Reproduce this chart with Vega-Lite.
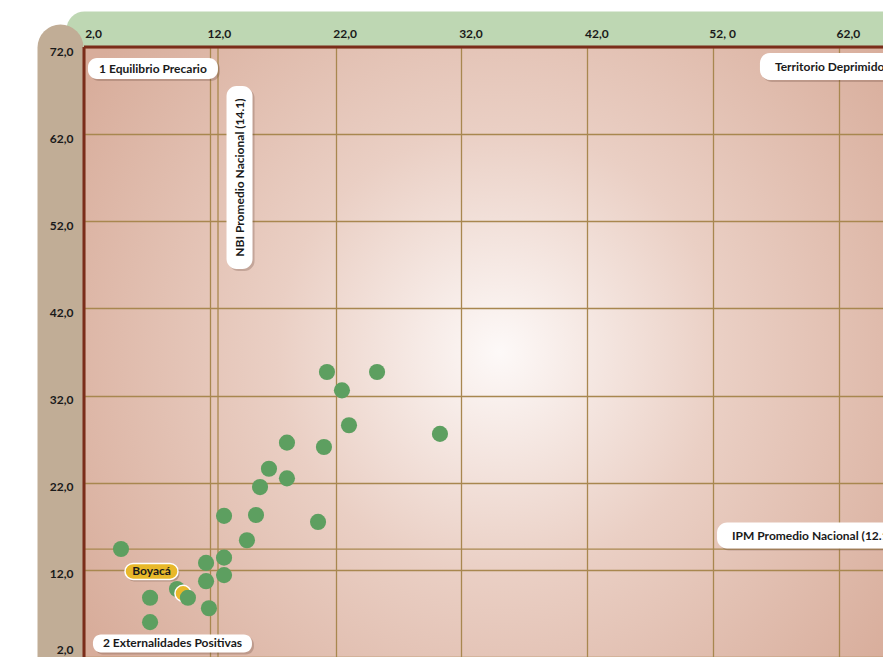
{
  "$schema": "https://vega.github.io/schema/vega-lite/v6.json",
  "width": 799,
  "height": 610,
  "autosize": {"type": "none"},
  "padding": {"left": 84, "top": 47, "right": 0, "bottom": 0},
  "background": "white",
  "resolve": {"axis": {"x": "independent", "y": "independent"}},
  "config": {
    "font": "Lato",
    "view": {
      "stroke": null,
      "fill": {
        "gradient": "radial",
        "x1": 0.52, "y1": 0.5, "r1": 0,
        "x2": 0.52, "y2": 0.5, "r2": 0.62,
        "stops": [
          {"offset": 0, "color": "#fdf9f8"},
          {"offset": 0.45, "color": "#eacfc4"},
          {"offset": 1, "color": "#d8ad9b"}
        ]
      }
    },
    "axis": {"title": null, "domain": false, "labels": false, "grid": false, "ticks": false, "tickSize": 0},
    "axisX": {"orient": "top"},
    "axisY": {"orient": "left"}
  },
  "datasets": {
    "puntos": [
      {"nombre": "M1", "tipo": "Municipio", "ipm": 4.94, "nbi": 14.4},
      {"nombre": "M2", "tipo": "Municipio", "ipm": 7.25, "nbi": 8.8},
      {"nombre": "M3", "tipo": "Municipio", "ipm": 7.25, "nbi": 6.0},
      {"nombre": "M4", "tipo": "Municipio", "ipm": 9.39, "nbi": 9.8},
      {"nombre": "Boyacá", "tipo": "Boyacá", "ipm": 9.87, "nbi": 9.3},
      {"nombre": "M5", "tipo": "Municipio", "ipm": 10.26, "nbi": 8.8},
      {"nombre": "M6", "tipo": "Municipio", "ipm": 11.7, "nbi": 12.8},
      {"nombre": "M7", "tipo": "Municipio", "ipm": 11.7, "nbi": 10.7},
      {"nombre": "M8", "tipo": "Municipio", "ipm": 11.93, "nbi": 7.6},
      {"nombre": "M9", "tipo": "Municipio", "ipm": 13.13, "nbi": 18.2},
      {"nombre": "M10", "tipo": "Municipio", "ipm": 13.13, "nbi": 13.4},
      {"nombre": "M11", "tipo": "Municipio", "ipm": 13.13, "nbi": 11.4},
      {"nombre": "M12", "tipo": "Municipio", "ipm": 14.95, "nbi": 15.4},
      {"nombre": "M13", "tipo": "Municipio", "ipm": 15.67, "nbi": 18.3},
      {"nombre": "M14", "tipo": "Municipio", "ipm": 15.99, "nbi": 21.5},
      {"nombre": "M15", "tipo": "Municipio", "ipm": 16.7, "nbi": 23.6},
      {"nombre": "M16", "tipo": "Municipio", "ipm": 18.13, "nbi": 26.6},
      {"nombre": "M17", "tipo": "Municipio", "ipm": 18.13, "nbi": 22.5},
      {"nombre": "M18", "tipo": "Municipio", "ipm": 20.6, "nbi": 17.5},
      {"nombre": "M19", "tipo": "Municipio", "ipm": 21.07, "nbi": 26.1},
      {"nombre": "M20", "tipo": "Municipio", "ipm": 21.31, "nbi": 34.7},
      {"nombre": "M21", "tipo": "Municipio", "ipm": 22.5, "nbi": 32.6},
      {"nombre": "M22", "tipo": "Municipio", "ipm": 23.06, "nbi": 28.6},
      {"nombre": "M23", "tipo": "Municipio", "ipm": 25.29, "nbi": 34.7},
      {"nombre": "M24", "tipo": "Municipio", "ipm": 30.29, "nbi": 27.6}
    ]
  },
  "layer": [
    {
      "data": {"values": [{"promedio": 12.65}]},
      "mark": {"type": "rule", "color": "#a8874f", "strokeWidth": 1.3},
      "encoding": {
        "x": {
          "field": "promedio", "type": "quantitative",
          "axis": {"orient": "top", "offset": 18, "domain": true, "domainColor": "#bed7b3", "domainWidth": 36, "domainCap": "round"}
        }
      }
    },
    {
      "data": {"values": [{"promedio": 14.39}]},
      "mark": {"type": "rule", "color": "#a8874f", "strokeWidth": 1.3},
      "encoding": {
        "y": {
          "field": "promedio", "type": "quantitative",
          "axis": {"orient": "left", "offset": 24, "domain": true, "domainColor": "#c1ad96", "domainWidth": 46, "domainCap": "round"}
        }
      }
    },
    {
      "data": {"name": "puntos"},
      "mark": {"type": "circle", "size": 260, "opacity": 1, "stroke": "white"},
      "encoding": {
        "x": {
          "field": "ipm", "type": "quantitative",
          "scale": {"domain": [2, 65.5], "nice": false, "zero": false},
          "axis": {
            "orient": "top",
            "values": [2, 12, 22, 32, 42, 52, 62],
            "labelExpr": "datum.value == 52 ? '52, 0' : replace(format(datum.value, '.1f'), '.', ',')",
            "offset": 18, "domain": false, "labels": true,
            "labelFont": "Lato", "labelFontWeight": "bold", "labelFontSize": 12, "labelColor": "#1a1a1a",
            "labelBaseline": "alphabetic", "labelAlign": "center", "labelPadding": -8, "labelOffset": 9,
            "labelOverlap": false, "labelFlush": false, "labelBound": false,
            "grid": true, "gridColor": "#a8874f", "gridWidth": 1.3, "gridOpacity": 1
          }
        },
        "y": {
          "field": "nbi", "type": "quantitative",
          "scale": {"domain": [2, 72], "nice": false, "zero": false},
          "axis": {
            "orient": "left",
            "values": [2, 12, 22, 32, 42, 52, 62, 72],
            "labelExpr": "replace(format(datum.value, '.1f'), '.', ',')",
            "offset": 24, "domain": false, "labels": true,
            "labelFont": "Lato", "labelFontWeight": "bold", "labelFontSize": 12, "labelColor": "#1a1a1a",
            "labelAlign": "right", "labelBaseline": "middle", "labelPadding": -13,
            "labelOverlap": false, "labelFlush": false, "labelBound": false,
            "labelOffset": {"condition": {"test": "datum.value == 2", "value": -8}, "value": 4},
            "grid": true, "gridColor": "#a8874f", "gridWidth": 1.3, "gridOpacity": 1
          }
        },
        "color": {
          "field": "tipo", "type": "nominal",
          "scale": {"domain": ["Municipio", "Boyacá"], "range": ["#5d9f60", "#e8b82a"]},
          "legend": null
        },
        "strokeWidth": {"condition": {"test": "datum.tipo == 'Boyacá'", "value": 1.5}, "value": 0}
      }
    },
    {
      "data": {"values": [{"borde": 2}]},
      "mark": {"type": "rule", "color": "#7b2d1a", "strokeWidth": 3},
      "encoding": {"x": {"field": "borde", "type": "quantitative"}}
    },
    {
      "data": {"values": [{"borde": 72}]},
      "mark": {"type": "rule", "color": "#7b2d1a", "strokeWidth": 3},
      "encoding": {"y": {"field": "borde", "type": "quantitative"}}
    },
    {
      "data": {"values": [{"texto": "1 Equilibrio Precario", "x": 7.48, "y": 69.53}]},
      "encoding": {
        "x": {"field": "x", "type": "quantitative"},
        "y": {"field": "y", "type": "quantitative"}
      },
      "layer": [
        {"mark": {"type": "rect", "width": 130, "height": 21, "cornerRadius": 9, "color": "#5a3a30", "opacity": 0.25, "xOffset": 2, "yOffset": 2}},
        {"mark": {"type": "rect", "width": 130, "height": 21, "cornerRadius": 9, "color": "white"}},
        {"mark": {"type": "text", "font": "Lato", "fontWeight": "bold", "fontSize": 12, "color": "#1a1a1a"}, "encoding": {"text": {"field": "texto"}}}
      ]
    },
    {
      "data": {"values": [{"texto": "NBI Promedio Nacional (14.1)", "x": 14.36, "y": 57.02}]},
      "encoding": {
        "x": {"field": "x", "type": "quantitative"},
        "y": {"field": "y", "type": "quantitative"}
      },
      "layer": [
        {"mark": {"type": "rect", "width": 26, "height": 183, "cornerRadius": 10, "color": "#5a3a30", "opacity": 0.25, "xOffset": 2, "yOffset": 2}},
        {"mark": {"type": "rect", "width": 26, "height": 183, "cornerRadius": 10, "color": "white"}},
        {"mark": {"type": "text", "font": "Lato", "fontWeight": "bold", "fontSize": 12, "color": "#1a1a1a", "angle": 270}, "encoding": {"text": {"field": "texto"}}}
      ]
    },
    {
      "data": {"values": [{"texto": "Territorio Deprimido", "x": 55.72, "y": 69.76}]},
      "encoding": {
        "x": {"field": "x", "type": "quantitative"},
        "y": {"field": "y", "type": "quantitative"}
      },
      "layer": [
        {"mark": {"type": "rect", "width": 170, "height": 27, "cornerRadius": 10, "color": "#5a3a30", "opacity": 0.25, "xOffset": 87, "yOffset": 2, "clip": true}},
        {"mark": {"type": "rect", "width": 170, "height": 27, "cornerRadius": 10, "color": "white", "xOffset": 85, "clip": true}},
        {"mark": {"type": "text", "font": "Lato", "fontWeight": "bold", "fontSize": 12, "color": "#1a1a1a", "align": "left", "dx": 15, "clip": true}, "encoding": {"text": {"field": "texto"}}}
      ]
    },
    {
      "data": {"values": [{"texto": "IPM  Promedio Nacional (12.1)", "x": 52.31, "y": 15.94}]},
      "encoding": {
        "x": {"field": "x", "type": "quantitative"},
        "y": {"field": "y", "type": "quantitative"}
      },
      "layer": [
        {"mark": {"type": "rect", "width": 210, "height": 26, "cornerRadius": 10, "color": "#5a3a30", "opacity": 0.25, "xOffset": 107, "yOffset": 2, "clip": true}},
        {"mark": {"type": "rect", "width": 210, "height": 26, "cornerRadius": 10, "color": "white", "xOffset": 105, "clip": true}},
        {"mark": {"type": "text", "font": "Lato", "fontWeight": "bold", "fontSize": 12, "color": "#1a1a1a", "align": "left", "dx": 15, "clip": true}, "encoding": {"text": {"field": "texto"}}}
      ]
    },
    {
      "data": {"values": [{"texto": "2 Externalidades Positivas", "x": 9.03, "y": 3.55}]},
      "encoding": {
        "x": {"field": "x", "type": "quantitative"},
        "y": {"field": "y", "type": "quantitative"}
      },
      "layer": [
        {"mark": {"type": "rect", "width": 159, "height": 18, "cornerRadius": 8, "color": "#5a3a30", "opacity": 0.25, "xOffset": 2, "yOffset": 2}},
        {"mark": {"type": "rect", "width": 159, "height": 18, "cornerRadius": 8, "color": "white"}},
        {"mark": {"type": "text", "font": "Lato", "fontWeight": "bold", "fontSize": 12, "color": "#1a1a1a"}, "encoding": {"text": {"field": "texto"}}}
      ]
    },
    {
      "data": {"name": "puntos"},
      "transform": [{"filter": "datum.tipo == 'Boyacá'"}],
      "encoding": {
        "x": {"field": "ipm", "type": "quantitative"},
        "y": {"field": "nbi", "type": "quantitative"}
      },
      "layer": [
        {"mark": {"type": "rect", "width": 53, "height": 16, "cornerRadius": 8, "color": "#5a3a30", "opacity": 0.3, "xOffset": -30, "yOffset": -20}},
        {"mark": {"type": "rect", "width": 53, "height": 16, "cornerRadius": 8, "color": "#e8b82a", "stroke": "white", "strokeWidth": 1.5, "xOffset": -31.5, "yOffset": -22}},
        {"mark": {"type": "text", "font": "Lato", "fontWeight": "bold", "fontSize": 12, "color": "#1a1a1a", "dx": -31.5, "dy": -22}, "encoding": {"text": {"field": "nombre"}}}
      ]
    }
  ]
}
